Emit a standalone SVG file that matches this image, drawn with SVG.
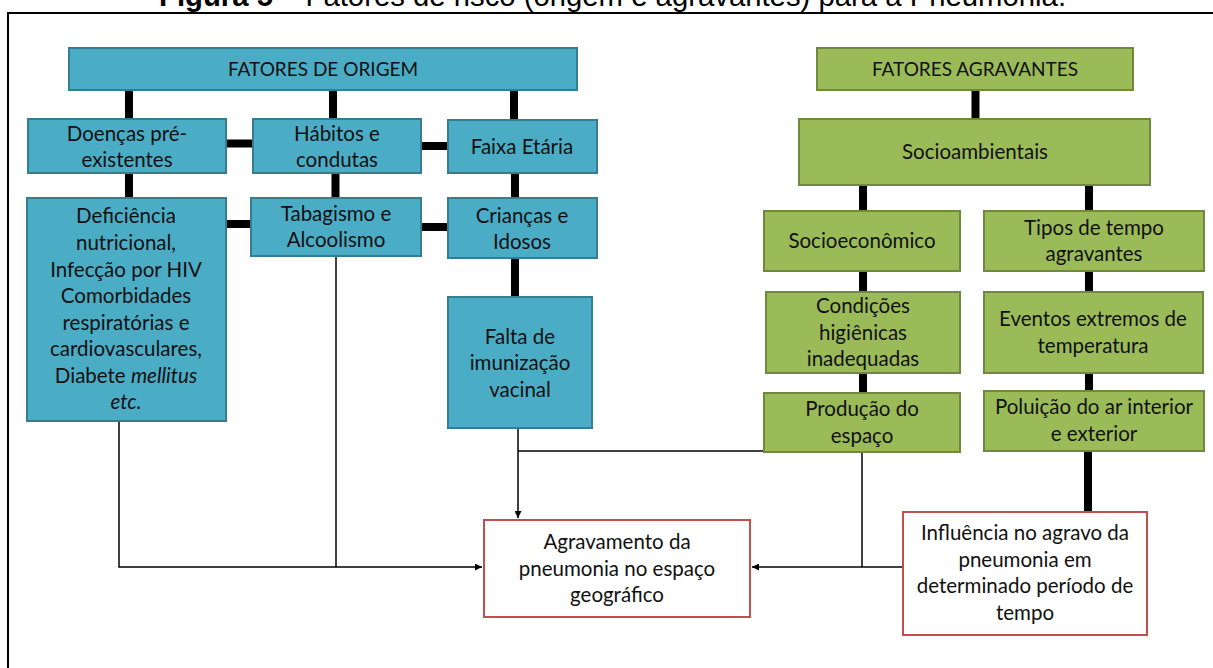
<svg xmlns="http://www.w3.org/2000/svg" width="1213" height="668" viewBox="0 0 1213 668">
<defs>
<style>
.b{fill:#4BACC6;stroke:#357D91;stroke-width:2}
.g{fill:#9BBB59;stroke:#71893F;stroke-width:2}
.r{fill:#FFFFFF;stroke:#C0504D;stroke-width:2}
.t{font-family:Lato,"Open Sans",sans-serif;font-size:20.5px;fill:#111;text-anchor:middle}
.c{font-size:19px}
.k{stroke:#000;stroke-width:8;fill:none}
.n{stroke:#000;stroke-width:1.5;fill:none}
.i{font-style:italic}
</style>
<marker id="ar" viewBox="0 0 10 10" refX="10" refY="5" markerWidth="7" markerHeight="7" markerUnits="userSpaceOnUse" orient="auto">
<path d="M0,0 L10,5 L0,10 z" fill="#000"/>
</marker>
</defs>
<rect width="1213" height="668" fill="#fff"/>
<text x="159" y="6" font-family="Liberation Sans,Arial,sans-serif" font-size="29.3" fill="#000"><tspan font-weight="bold">Figura 5</tspan> – Fatores de risco (origem e agravantes) para a Pneumonia.</text>
<rect x="8" y="13" width="1215" height="670" fill="none" stroke="#000" stroke-width="2"/>

<g id="connectors">
<path class="k" d="M129,90V119 M333,90V119 M514,90V120 M226,143.5H253 M421,146H448 M129,173V198 M335.5,173V198 M515,173V198 M226,224H251 M421,227H448 M515,258V297"/>
<path class="k" d="M975.5,90V119 M863,185V211 M1089,185V211 M863,271V292 M863,373V393 M1089,271V292 M1089,373V391 M1088,451V512"/>
<path class="n" d="M119,421V567H482" marker-end="url(#ar)"/>
<path class="n" d="M336,256V567"/>
<path class="n" d="M518,428V518" marker-end="url(#ar)"/>
<path class="n" d="M518,451H765"/>
<path class="n" d="M862,452V567"/>
<path class="n" d="M903,567H752" marker-end="url(#ar)"/>
</g>

<g id="fatores-origem"><rect class="b" x="69" y="48" width="508" height="42"/><text class="t c" x="323" y="76">FATORES DE ORIGEM</text></g>
<g id="doencas"><rect class="b" x="28" y="119" width="198" height="54"/><text class="t" x="127" y="141">Doenças pré-</text><text class="t" x="127" y="167">existentes</text></g>
<g id="habitos"><rect class="b" x="253" y="119" width="168" height="54"/><text class="t" x="337" y="141">Hábitos e</text><text class="t" x="337" y="167">condutas</text></g>
<g id="faixa"><rect class="b" x="448" y="120" width="149" height="53"/><text class="t" x="522" y="154">Faixa Etária</text></g>
<g id="deficiencia"><rect class="b" x="27" y="198" width="199" height="223"/>
<text class="t" x="126" y="223">Deficiência</text>
<text class="t" x="126" y="250">nutricional,</text>
<text class="t" x="126" y="277">Infecção por HIV</text>
<text class="t" x="126" y="303">Comorbidades</text>
<text class="t" x="126" y="330">respiratórias e</text>
<text class="t" x="126" y="356">cardiovasculares,</text>
<text class="t" x="126" y="383">Diabete <tspan class="i">mellitus</tspan></text>
<text class="t i" x="126" y="409">etc.</text></g>
<g id="tabagismo"><rect class="b" x="251" y="198" width="170" height="58"/><text class="t" x="336" y="221">Tabagismo e</text><text class="t" x="336" y="247">Alcoolismo</text></g>
<g id="criancas"><rect class="b" x="448" y="198" width="149" height="60"/><text class="t" x="522" y="223">Crianças e</text><text class="t" x="522" y="249">Idosos</text></g>
<g id="falta"><rect class="b" x="448" y="297" width="144" height="131"/><text class="t" x="520" y="344">Falta de</text><text class="t" x="520" y="370">imunização</text><text class="t" x="520" y="397">vacinal</text></g>

<g id="fatores-agravantes"><rect class="g" x="817" y="48" width="316" height="42"/><text class="t c" x="975" y="76">FATORES AGRAVANTES</text></g>
<g id="socioambientais"><rect class="g" x="799" y="119" width="351" height="66"/><text class="t" x="975" y="159">Socioambientais</text></g>
<g id="socioeconomico"><rect class="g" x="764" y="211" width="196" height="60"/><text class="t" x="862" y="248">Socioeconômico</text></g>
<g id="tipos"><rect class="g" x="984" y="211" width="220" height="60"/><text class="t" x="1094" y="235">Tipos de tempo</text><text class="t" x="1094" y="261">agravantes</text></g>
<g id="condicoes"><rect class="g" x="766" y="292" width="194" height="81"/><text class="t" x="863" y="313">Condições</text><text class="t" x="863" y="340">higiênicas</text><text class="t" x="863" y="366">inadequadas</text></g>
<g id="eventos"><rect class="g" x="984" y="292" width="219" height="81"/><text class="t" x="1093" y="326">Eventos extremos de</text><text class="t" x="1093" y="353">temperatura</text></g>
<g id="producao"><rect class="g" x="764" y="393" width="196" height="59"/><text class="t" x="862" y="416">Produção do</text><text class="t" x="862" y="443">espaço</text></g>
<g id="poluicao"><rect class="g" x="984" y="391" width="220" height="60"/><text class="t" x="1094" y="414">Poluição do ar interior</text><text class="t" x="1094" y="441">e exterior</text></g>

<g id="agravamento"><rect class="r" x="484" y="520" width="266" height="97"/><text class="t" x="617" y="549">Agravamento da</text><text class="t" x="617" y="576">pneumonia no espaço</text><text class="t" x="617" y="602">geográfico</text></g>
<g id="influencia"><rect class="r" x="903" y="512" width="244" height="123"/><text class="t" x="1025" y="540">Influência no agravo da</text><text class="t" x="1025" y="567">pneumonia em</text><text class="t" x="1025" y="593">determinado período de</text><text class="t" x="1025" y="620">tempo</text></g>
</svg>
